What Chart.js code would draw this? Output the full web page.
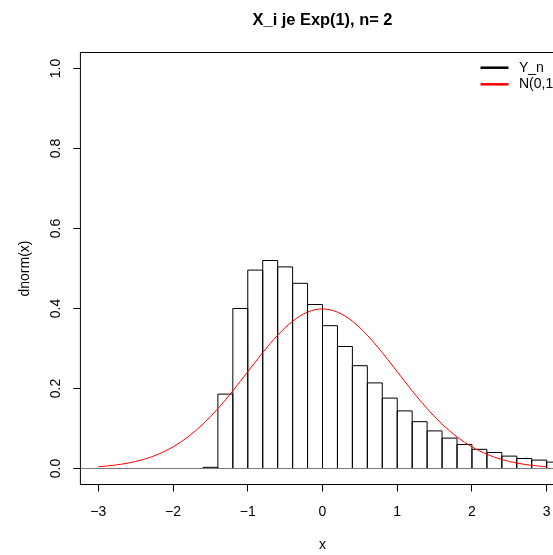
<!DOCTYPE html>
<html>
<head>
<meta charset="utf-8">
<script src="https://cdn.jsdelivr.net/npm/chart.js@4/dist/chart.umd.min.js"></script>
<style>
  html, body { margin: 0; padding: 0; background: #ffffff; overflow: hidden; }
  #wrap { width: 600px; height: 555px; }
</style>
</head>
<body>
<div id="wrap"><canvas id="c" width="600" height="555"></canvas></div>
<script>
// ---- data ----
const titleText = 'X_i je Exp(1), n= 2';
const xAxisTitle = 'x';
const yAxisTitle = 'dnorm(x)';

// histogram bins (centres, bin width 0.2) and densities
const binCenters = [-1.5, -1.3, -1.1, -0.9, -0.7, -0.5, -0.3, -0.1, 0.1, 0.3, 0.5, 0.7,
                    0.9, 1.1, 1.3, 1.5, 1.7, 1.9, 2.1, 2.3, 2.5, 2.7, 2.9, 3.1, 3.3];
const binDensity = [0.003, 0.186, 0.400, 0.496, 0.520, 0.504, 0.463, 0.410, 0.357, 0.305, 0.257, 0.214,
                    0.176, 0.144, 0.117, 0.094, 0.076, 0.060, 0.048, 0.040, 0.031, 0.025, 0.021, 0.016, 0.013];

// N(0,1) curve
const curveX = [-3.0, -2.8, -2.6, -2.4, -2.2, -2.0, -1.8, -1.6, -1.4, -1.2, -1.0, -0.8, -0.6, -0.4, -0.2,
                0.0, 0.2, 0.4, 0.6, 0.8, 1.0, 1.2, 1.4, 1.6, 1.8, 2.0, 2.2, 2.4, 2.6, 2.8, 3.0];
const curveY = [0.0044, 0.0079, 0.0136, 0.0224, 0.0355, 0.0540, 0.0790, 0.1109, 0.1497, 0.1942, 0.2420,
                0.2897, 0.3332, 0.3683, 0.3910, 0.3989, 0.3910, 0.3683, 0.3332, 0.2897, 0.2420, 0.1942,
                0.1497, 0.1109, 0.0790, 0.0540, 0.0355, 0.0224, 0.0136, 0.0079, 0.0044];

const xTickValues = [-3, -2, -1, 0, 1, 2, 3];
const xTickLabels = ['\u22123', '\u22122', '\u22121', '0', '1', '2', '3'];
const yTickValues = [0, 0.2, 0.4, 0.6, 0.8, 1.0];
const yTickLabels = ['0.0', '0.2', '0.4', '0.6', '0.8', '1.0'];

const legendLabels = ['Y_n', 'N(0,1)'];
const legendColors = ['#000000', '#ff0000'];

const FONT = '"Liberation Sans", Arial, Helvetica, sans-serif';

const histData = binCenters.map((x, i) => ({ x: x, y: binDensity[i] }));
const curveData = curveX.map((x, i) => ({ x: x, y: curveY[i] }));

const rPlot = {
  id: 'rPlot',
  afterDatasetDraw(chart, args) {
    if (args.index !== 0) return;
    const ctx = chart.ctx, a = chart.chartArea, ys = chart.scales.y;
    const meta = chart.getDatasetMeta(0);
    ctx.save();
    ctx.beginPath();
    ctx.rect(a.left, a.top, a.right - a.left, a.bottom - a.top);
    ctx.clip();
    // zero line (bottoms of all bins, incl. empty ones)
    const y0 = ys.getPixelForValue(0);
    ctx.strokeStyle = '#7a7a7a';
    ctx.lineWidth = 1;
    ctx.beginPath();
    ctx.moveTo(a.left, y0);
    ctx.lineTo(a.right, y0);
    ctx.stroke();
    // bar outlines (left, top, right)
    ctx.strokeStyle = '#000';
    meta.data.forEach(el => {
      const p = el.getProps(['x', 'y', 'base', 'width'], true);
      const l = p.x - p.width / 2, r = p.x + p.width / 2;
      ctx.beginPath();
      ctx.moveTo(l, p.base);
      ctx.lineTo(l, p.y);
      ctx.lineTo(r, p.y);
      ctx.lineTo(r, p.base);
      ctx.stroke();
    });
    ctx.restore();
  },
  afterDraw(chart) {
    const ctx = chart.ctx, a = chart.chartArea;
    const xs = chart.scales.x, ys = chart.scales.y;
    ctx.save();
    // box
    ctx.strokeStyle = '#000';
    ctx.lineWidth = 1;
    ctx.strokeRect(a.left, a.top, a.right - a.left, a.bottom - a.top);

    const cx = (a.left + a.right) / 2;
    const cy = (a.top + a.bottom) / 2;
    ctx.fillStyle = '#000';

    // title
    ctx.font = 'bold 16.4px ' + FONT;
    ctx.textAlign = 'center';
    ctx.textBaseline = 'alphabetic';
    ctx.fillText(titleText, cx, 25);

    // x tick labels
    ctx.font = '14px ' + FONT;
    xTickValues.forEach((v, i) => {
      ctx.fillText(xTickLabels[i], xs.getPixelForValue(v), 515.7);
    });
    // x axis title
    ctx.fillText(xAxisTitle, cx, 549);

    // y tick labels (rotated)
    yTickValues.forEach((v, i) => {
      ctx.save();
      ctx.translate(60, ys.getPixelForValue(v));
      ctx.rotate(-Math.PI / 2);
      ctx.fillText(yTickLabels[i], 0, 0);
      ctx.restore();
    });
    // y axis title
    ctx.save();
    ctx.translate(28.5, cy);
    ctx.rotate(-Math.PI / 2);
    ctx.fillText(yAxisTitle, 0, 0);
    ctx.restore();

    // legend (top right, inside the box)
    ctx.textAlign = 'left';
    ctx.textBaseline = 'middle';
    const legY = [67.7, 84.3];
    legendLabels.forEach((lab, i) => {
      ctx.strokeStyle = legendColors[i];
      ctx.lineWidth = 2.5;
      ctx.beginPath();
      ctx.moveTo(480.5, legY[i]);
      ctx.lineTo(508.5, legY[i]);
      ctx.stroke();
      ctx.fillStyle = '#000';
      ctx.fillText(lab, 519, legY[i]);
    });
    ctx.restore();
  }
};

new Chart(document.getElementById('c'), {
  type: 'bar',
  data: {
    datasets: [
      {
        type: 'bar',
        label: legendLabels[0],
        data: histData,
        backgroundColor: 'rgba(0,0,0,0)',
        borderWidth: 0,
        barPercentage: 1.0,
        categoryPercentage: 1.0,
        order: 2
      },
      {
        type: 'line',
        label: legendLabels[1],
        data: curveData,
        borderColor: '#ff0000',
        borderWidth: 1,
        pointRadius: 0,
        fill: false,
        cubicInterpolationMode: 'monotone',
        order: 1
      }
    ]
  },
  plugins: [rPlot],
  options: {
    responsive: false,
    animation: false,
    events: [],
    layout: { padding: { left: 0, top: 52.5, right: 35.4, bottom: 0 } },
    plugins: {
      legend: { display: false },
      title: { display: false },
      tooltip: { enabled: false }
    },
    scales: {
      x: {
        type: 'linear',
        min: -3.24,
        max: 3.24,
        offset: false,
        afterBuildTicks(scale) { scale.ticks = xTickValues.map(v => ({ value: v })); },
        afterFit(scale) { scale.height = 70.5; },
        ticks: { display: false },
        border: { display: false },
        grid: { display: true, drawOnChartArea: false, drawTicks: true, tickLength: 7, color: '#000', lineWidth: 1, offset: false }
      },
      y: {
        type: 'linear',
        min: -0.04,
        max: 1.04,
        afterBuildTicks(scale) { scale.ticks = yTickValues.map(v => ({ value: v })); },
        afterFit(scale) { scale.width = 80.4; },
        ticks: { display: false },
        border: { display: false },
        grid: { display: true, drawOnChartArea: false, drawTicks: true, tickLength: 7, color: '#000', lineWidth: 1 }
      }
    }
  }
});
</script>
</body>
</html>
